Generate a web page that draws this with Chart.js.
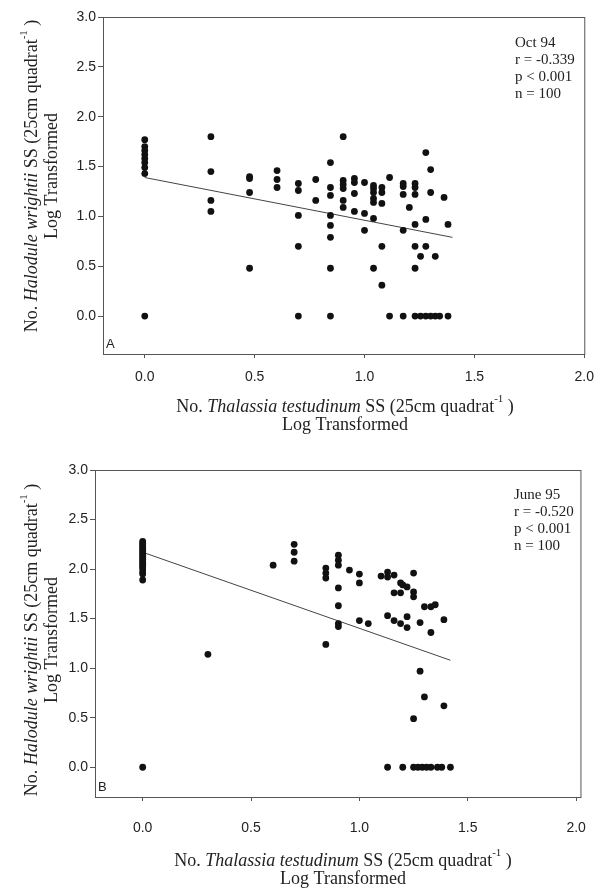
<!DOCTYPE html>
<html>
<head>
<meta charset="utf-8">
<script src="https://cdn.jsdelivr.net/npm/chart.js@4/dist/chart.umd.min.js"></script>
<style>
  body { margin: 0; background: #fff; }
  #wrap { position: relative; width: 605px; height: 893px; }
  canvas { position: absolute; left: 0; }
  #cA { top: 0; }
  #cB { top: 440px; }
</style>
</head>
<body>
<div id="wrap">
  <canvas id="cA" width="605" height="440"></canvas>
  <canvas id="cB" width="605" height="453"></canvas>
</div>
<script>
// Oct 94 – log Thalassia (x) vs log Halodule (y)
const octX = [
  0, 0, 0, 0, 0, 0, 0, 0, 0,
  0.301, 0.301, 0.301, 0.301,
  0.477, 0.477, 0.477, 0.477,
  0.602, 0.602, 0.602,
  0.699, 0.699, 0.699, 0.699, 0.699,
  0.778, 0.778,
  0.845, 0.845, 0.845, 0.845, 0.845, 0.845, 0.845, 0.845,
  0.903, 0.903, 0.903, 0.903, 0.903, 0.903,
  0.954, 0.954, 0.954, 0.954,
  1.0, 1.0, 1.0,
  1.041, 1.041, 1.041, 1.041, 1.041, 1.041, 1.041,
  1.079, 1.079, 1.079, 1.079, 1.079,
  1.114, 1.114,
  1.176, 1.176, 1.176, 1.176, 1.176,
  1.204,
  1.230, 1.230, 1.230, 1.230, 1.230, 1.230, 1.230,
  1.255, 1.255,
  1.279, 1.279, 1.279, 1.279,
  1.301, 1.301, 1.301,
  1.322, 1.322,
  1.342,
  1.362,
  1.380, 1.380
];
const octY = [
  1.77, 1.70, 1.66, 1.62, 1.58, 1.54, 1.49, 1.43, 0,
  1.80, 1.45, 1.16, 1.05,
  1.40, 1.38, 1.24, 0.48,
  1.46, 1.37, 1.29,
  1.33, 1.26, 1.01, 0.70, 0,
  1.37, 1.16,
  1.54, 1.29, 1.21, 1.01, 0.91, 0.79, 0.48, 0,
  1.80, 1.36, 1.32, 1.28, 1.16, 1.09,
  1.38, 1.34, 1.23, 1.05,
  1.34, 1.03, 0.86,
  1.31, 1.28, 1.24, 1.18, 1.14, 0.98, 0.48,
  1.29, 1.24, 1.13, 0.70, 0.31,
  1.39, 0,
  1.33, 1.30, 1.22, 0.86, 0,
  1.09,
  1.33, 1.29, 1.22, 0.92, 0.70, 0.48, 0,
  0.60, 0,
  1.64, 0.97, 0.70, 0,
  1.47, 1.24, 0,
  0.60, 0,
  0,
  1.19,
  0.92, 0
];
const octFitX = [0, 1.40];
const octFitY = [1.39, 0.79];
const octStats = ['Oct 94', 'r = -0.339', 'p < 0.001', 'n = 100'];

// June 95
const juneX = [
  0, 0, 0, 0, 0, 0, 0, 0, 0, 0, 0, 0, 0, 0, 0, 0, 0, 0, 0,
  0.301,
  0.602,
  0.699, 0.699, 0.699,
  0.845, 0.845, 0.845, 0.845,
  0.903, 0.903, 0.903, 0.903, 0.903, 0.903, 0.903,
  0.954,
  1.0, 1.0, 1.0,
  1.041,
  1.10,
  1.13, 1.13, 1.13, 1.13,
  1.16, 1.16, 1.16,
  1.19, 1.19, 1.19,
  1.20, 1.20,
  1.22, 1.22, 1.22,
  1.25, 1.25, 1.25, 1.25, 1.25,
  1.27,
  1.28, 1.28,
  1.29,
  1.30, 1.30,
  1.31,
  1.33, 1.33, 1.33,
  1.35,
  1.36, 1.38,
  1.39, 1.39,
  1.42
];
const juneY = [
  2.28, 2.26, 2.24, 2.22, 2.20, 2.18, 2.16, 2.14, 2.12, 2.10, 2.08, 2.06, 2.04, 2.02, 2.00, 1.97, 1.95, 1.89, 0,
  1.14,
  2.04,
  2.25, 2.17, 2.08,
  2.01, 1.96, 1.91, 1.24,
  2.14, 2.09, 2.04, 1.81, 1.63, 1.45, 1.42,
  1.99,
  1.95, 1.86, 1.48,
  1.45,
  1.93,
  1.97, 1.92, 1.53, 0,
  1.94, 1.76, 1.48,
  1.86, 1.76, 1.45,
  1.84, 0,
  1.82, 1.52, 1.41,
  1.96, 1.77, 1.72, 0.49, 0,
  0,
  1.46, 0.97,
  0,
  1.62, 0.71,
  0,
  1.62, 1.36, 0,
  1.64,
  0, 0,
  1.49, 0.62,
  0
];
const juneFitX = [0, 1.42];
const juneFitY = [2.17, 1.08];
const juneStats = ['June 95', 'r = -0.520', 'p < 0.001', 'n = 100'];

const xTickValues = [0, 0.5, 1.0, 1.5, 2.0];
const yTickValues = [0, 0.5, 1.0, 1.5, 2.0, 2.5, 3.0];

const INK = '#222';
const AXIS = '#555';
const SERIF = '"Liberation Serif", "DejaVu Serif", serif';
const SANS = '"Liberation Sans", Arial, sans-serif';

const yTitle = [
  [{t: 'No. '}, {t: 'Halodule wrightii', i: true}, {t: ' SS (25cm quadrat'}, {t: '-1', sup: true}, {t: ' )'}],
  [{t: 'Log Transformed'}]
];
const xTitle = [
  [{t: 'No. '}, {t: 'Thalassia testudinum', i: true}, {t: ' SS (25cm quadrat'}, {t: '-1', sup: true}, {t: ' )'}],
  [{t: 'Log Transformed'}]
];

function fontFor(p, size) {
  const s = p.sup ? Math.round(size * 0.6) : size;
  return (p.i ? 'italic ' : '') + s + 'px ' + SERIF;
}

// draws a line of mixed roman / italic / superscript text centred on (0,0)
function drawRich(ctx, parts, size) {
  let w = 0;
  parts.forEach(p => { ctx.font = fontFor(p, size); w += ctx.measureText(p.t).width; });
  let x = -w / 2;
  parts.forEach(p => {
    ctx.font = fontFor(p, size);
    ctx.fillText(p.t, x, p.sup ? -size * 0.42 : 0);
    x += ctx.measureText(p.t).width;
  });
}

const figText = {
  id: 'figText',
  afterDraw(chart, args, o) {
    const ctx = chart.ctx;
    const a = chart.chartArea;
    ctx.save();
    // frame
    ctx.strokeStyle = AXIS;
    ctx.lineWidth = 1;
    ctx.strokeRect(a.left + 0.5, a.top + 0.5, a.right - a.left, a.bottom - a.top);

    ctx.fillStyle = INK;
    ctx.textBaseline = 'middle';
    // x title
    xTitle.forEach((parts, k) => {
      ctx.save();
      ctx.translate(o.xTitleCX, o.xTitleY[k]);
      drawRich(ctx, parts, 18);
      ctx.restore();
    });
    // y title
    yTitle.forEach((parts, k) => {
      ctx.save();
      ctx.translate(o.yTitleX[k], o.yTitleCY);
      ctx.rotate(-Math.PI / 2);
      drawRich(ctx, parts, 18);
      ctx.restore();
    });
    // stats block
    ctx.font = '15px ' + SERIF;
    ctx.textAlign = 'left';
    o.stats.forEach((s, k) => ctx.fillText(s, o.statsX, o.statsY + k * 17));
    // panel letter
    ctx.font = '13px ' + SANS;
    ctx.fillText(o.panel, a.left + 3, a.bottom - 10);
    ctx.restore();
  }
};

function makeChart(id, xs, ys, fx, fy, xmin, xmax, ymin, ymax, area, txt) {
  const pts = xs.map((x, i) => ({x: x, y: ys[i]}));
  const fit = fx.map((x, i) => ({x: x, y: fy[i]}));
  const canvas = document.getElementById(id);
  return new Chart(canvas, {
    type: 'scatter',
    data: {
      datasets: [
        {
          data: fit,
          showLine: true,
          borderColor: '#444',
          borderWidth: 1,
          pointRadius: 0,
          order: 2
        },
        {
          data: pts,
          pointRadius: 3.4,
          pointBackgroundColor: '#111',
          pointBorderWidth: 0,
          order: 1
        }
      ]
    },
    options: {
      responsive: false,
      animation: false,
      layout: { padding: { top: area.top, right: canvas.width - area.right, left: 0, bottom: 0 } },
      plugins: {
        legend: { display: false },
        tooltip: { enabled: false },
        figText: txt
      },
      scales: {
        x: {
          type: 'linear',
          min: xmin,
          max: xmax,
          afterBuildTicks: s => { s.ticks = xTickValues.map(v => ({value: v})); },
          afterFit: s => { s.height = canvas.height - area.bottom; },
          ticks: {
            color: INK,
            padding: area.xPad,
            maxRotation: 0,
            font: { family: SANS, size: 14 },
            callback: v => v.toFixed(1)
          },
          grid: { drawOnChartArea: false, drawTicks: true, tickLength: 4, color: AXIS },
          border: { display: true, color: AXIS, width: 1 }
        },
        y: {
          type: 'linear',
          min: ymin,
          max: ymax,
          afterBuildTicks: s => { s.ticks = yTickValues.map(v => ({value: v})); },
          afterFit: s => { s.width = area.left; },
          ticks: {
            color: INK,
            padding: 2,
            font: { family: SANS, size: 14 },
            callback: v => v.toFixed(1)
          },
          grid: { drawOnChartArea: false, drawTicks: true, tickLength: 5, color: AXIS },
          border: { display: true, color: AXIS, width: 1 }
        }
      }
    },
    plugins: [figText]
  });
}

makeChart('cA', octX, octY, octFitX, octFitY, -0.19, 2.0, -0.38, 3.0,
  { top: 17, bottom: 354, left: 103, right: 588, xPad: 11 },
  { xTitleCX: 345, xTitleY: [407, 425], yTitleX: [32, 52], yTitleCY: 176,
    stats: octStats, statsX: 515, statsY: 43, panel: 'A' });

makeChart('cB', juneX, juneY, juneFitX, juneFitY, -0.22, 2.02, -0.30, 3.0,
  { top: 30, bottom: 357, left: 95, right: 588, xPad: 19 },
  { xTitleCX: 343, xTitleY: [421, 439], yTitleX: [32, 52], yTitleCY: 200,
    stats: juneStats, statsX: 514, statsY: 55, panel: 'B' });
</script>
</body>
</html>
